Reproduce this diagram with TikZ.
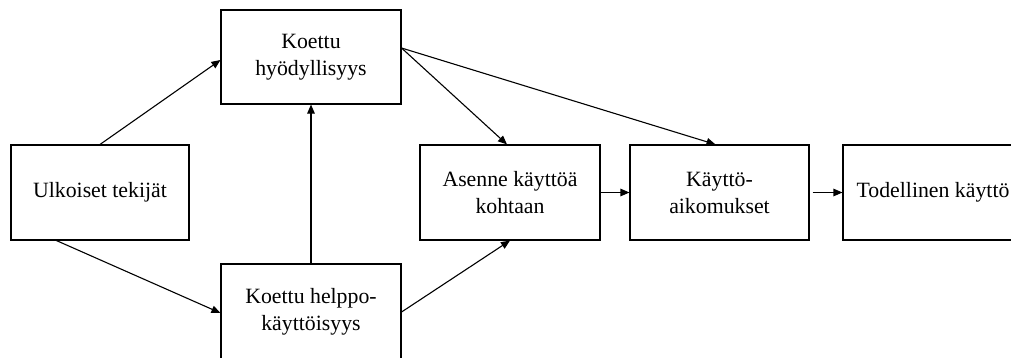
\documentclass[tikz,border=0pt]{standalone}
\usepackage{fontspec}
\setmainfont{Liberation Serif}
\newfontfamily\timesfont{Liberation Serif}
\usetikzlibrary{arrows.meta,calc}
\begin{document}
\begin{tikzpicture}[x=1pt,y=-1pt,
  box/.style={draw=black,line width=1.1pt,minimum width=180pt,minimum height=95pt,inner sep=0pt,align=center,font=\timesfont\fontsize{21.8}{27}\selectfont},
  arr/.style={line width=1.1pt,-{Triangle[length=9pt,width=7.5pt]}}]
\useasboundingbox (0,0) rectangle (1011,357);
\clip (0,0) rectangle (1011,357);
\node[box,minimum width=178pt] (ulk) at (100,192.5) {Ulkoiset tekijät};
\node[box,minimum height=94pt] (hyo) at (311,57) {Koettu\\hyödyllisyys};
\node[box,minimum height=96pt] (hel) at (311,312) {Koettu helppo-\\käyttöisyys};
\node[box] (ase) at (510,192.5) {Asenne käyttöä\\kohtaan};
\node[box,minimum width=179pt] (kay) at (719.5,192.5) {Käyttö-\\aikomukset};
\node[box] (tod) at (933,192.5) {Todellinen käyttö};
\coordinate (ulkb) at ($(ulk.south west)+(46,0)$);
\coordinate (hyoe) at ($(hyo.east)+(0,-9)$);
\coordinate (hyow) at ($(hyo.west)+(0,3)$);
\coordinate (helw) at ($(hel.west)+(0,1)$);
\coordinate (asen) at ($(ase.north)+(-3,0)$);
\coordinate (kayn) at ($(kay.north)+(-4,0)$);
\draw[arr] (ulk.north) -- (hyow);
\draw[arr] (ulkb) -- (helw);
\draw[arr] (hel.north) -- (hyo.south);
\draw[arr] (hyoe) -- (asen);
\draw[arr] (hyoe) -- (kayn);
\draw[arr] (hel.east) -- (ase.south);
\draw[arr] (ase.east) -- (kay.west);
\draw[arr,shorten <=3pt] (kay.east) -- (tod.west);
\end{tikzpicture}
\end{document}
